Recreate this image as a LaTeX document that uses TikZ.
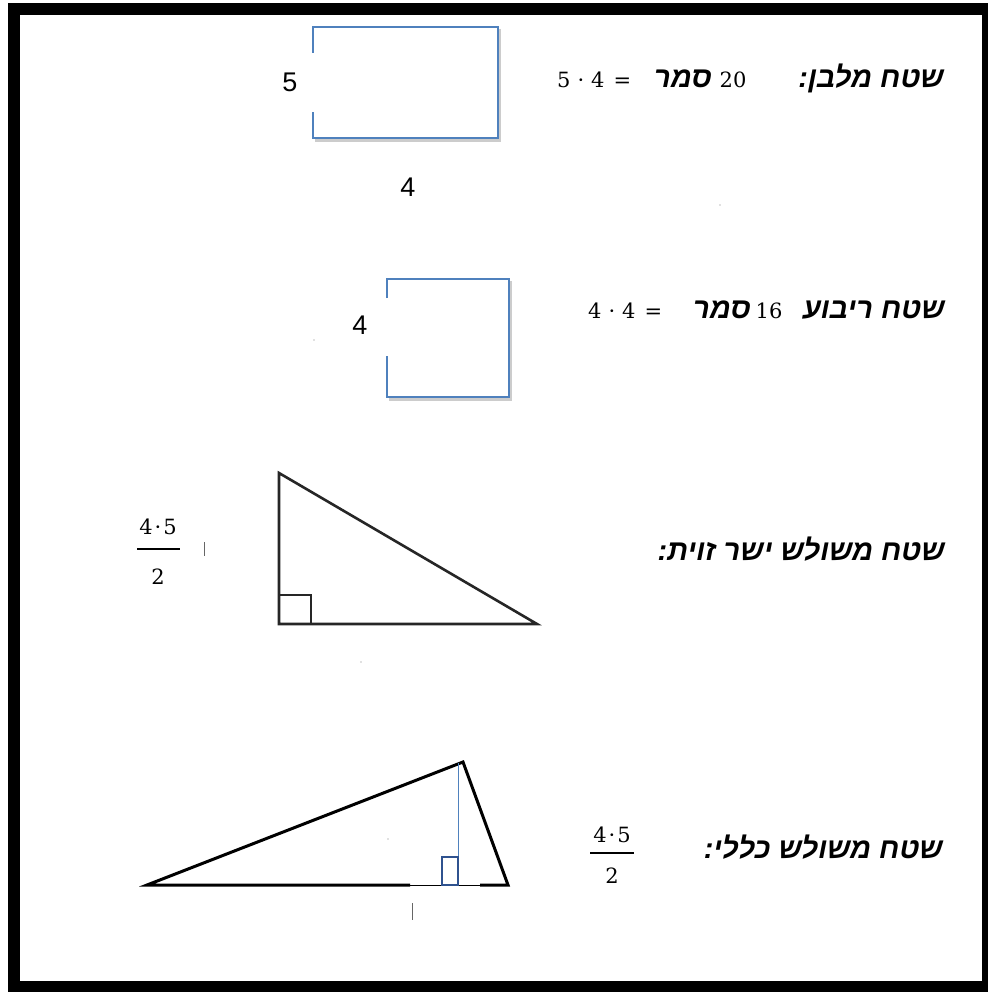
\documentclass[tikz,border=0pt]{standalone}
\usepackage{fontspec}
\TeXXeTstate=1
\newfontfamily\hebfont[Script=Hebrew]{Liberation Sans}
\newfontfamily\arialfont{Liberation Sans}
\newfontfamily\serfont{DejaVu Serif}
\definecolor{boxblue}{HTML}{4F81BD}
\definecolor{darkblue}{HTML}{2F528F}
\newcommand{\sdot}{\hspace{2pt}·\hspace{2pt}}
\begin{document}
\begin{tikzpicture}[x=1pt,y=-1pt,
  heb/.style={font=\hebfont\bfseries\itshape\fontsize{29}{33}\selectfont, inner sep=0pt, anchor=base east},
  num/.style={font=\serfont\fontsize{21}{25}\selectfont, inner sep=0pt},
  lab/.style={font=\arialfont\fontsize{27}{30}\selectfont, inner sep=0pt},
  bluebox/.style={draw=boxblue, line width=1.6pt, line join=miter},
  shade/.style={draw=black!20, line width=2.5pt},
  tri/.style={draw=black!85, line width=2.6pt, line join=miter},
  tickmark/.style={draw=black!60, line width=0.8pt}]
\useasboundingbox (0,0) rectangle (987,992);
\fill[white] (0,0) rectangle (987,992);
% frame
\draw[line width=12pt] (14,9) rectangle (988,987);

% ---------- rectangle ----------
\coordinate (r1a) at (313,53);
\coordinate (r1tl) at (313,27);
\coordinate (r1tr) at (498,27);
\coordinate (r1br) at (498,138);
\coordinate (r1bl) at (313,138);
\coordinate (r1b) at (313,112);
\draw[shade] ([shift={(2,2)}]r1tr) -- ([shift={(2,2.5)}]r1br) -- ([shift={(2,2.5)}]r1bl);
\draw[bluebox] (r1a) -- (r1tl) -- (r1tr) -- (r1br) -- (r1bl) -- (r1b);
\node[lab] (l5) at (290,82) {5};
\node[lab] (l4a) at (408,187) {4};
\fill[black!50] (720,205) circle (0.6);

\node[heb] (h1) at (944,88) {\beginR שטח מלבן:\endR};
\node[num, anchor=base] (n20) at (733,88) {20};
\node[heb] (h1u) at (712,88) {\beginR סמר\endR};
\node[num, anchor=base west] (e1) at (557,88) {5\hspace{7pt}·\hspace{7pt}4\hspace{9pt}=};

% ---------- square ----------
\coordinate (r2a) at (387,298);
\coordinate (r2tl) at (387,279);
\coordinate (r2tr) at (509,279);
\coordinate (r2br) at (509,397);
\coordinate (r2bl) at (387,397);
\coordinate (r2b) at (387,356);
\draw[shade] ([shift={(2,2)}]r2tr) -- ([shift={(2,2.5)}]r2br) -- ([shift={(2,2.5)}]r2bl);
\draw[bluebox] (r2a) -- (r2tl) -- (r2tr) -- (r2br) -- (r2bl) -- (r2b);
\node[lab] (l4b) at (360,325) {4};
\fill[black!50] (314,340) circle (0.6);

\node[heb] (h2) at (945,318) {\beginR שטח ריבוע\endR};
\node[num, anchor=base] (n16) at (769,318) {16};
\node[heb] (h2u) at (751,318) {\beginR סמר\endR};
\node[num, anchor=base west] (e2) at (588,318) {4\hspace{7pt}·\hspace{7pt}4\hspace{9pt}=};

% ---------- right triangle ----------
\coordinate (t1a) at (279,473);
\coordinate (t1b) at (279,624);
\coordinate (t1c) at (537,624);
\draw[tri] (t1a) -- (t1b) -- (t1c) -- cycle;
\draw[draw=black!85, line width=2pt] (279,595) -- (311,595) -- (311,624);
\node[num] (f1n) at (158,527) {4\sdot5};
\draw[line width=2.6pt] (137,549) -- (180,549);
\node[num] (f1d) at (158,577) {2};
\draw[tickmark] (204,542) -- (204,556);
\fill[black!50] (361,662) circle (0.6);

\node[heb] (h3) at (945,560) {\beginR שטח משולש ישר זוית:\endR};

% ---------- general triangle ----------
\coordinate (t2a) at (147,885);
\coordinate (t2b) at (463,762);
\coordinate (t2c) at (508,885);
\coordinate (t2g1) at (410,885);
\coordinate (t2g2) at (480,885);
\coordinate (t2h) at (458,763);
\coordinate (t2f) at (458,885);
\draw[line width=3pt, line join=miter] (t2g1) -- (t2a) -- (t2b) -- (t2c) -- (t2g2);
\draw[line width=1pt] (t2g1) -- (t2g2);
\draw[draw=boxblue, line width=1pt] (t2h) -- (t2f);
\draw[draw=darkblue, line width=2.2pt] (442,885) rectangle (458,857);
\fill[black!50] (388,839) circle (0.6);
\draw[tickmark] (412,903) -- (412,920);

\node[num] (f2n) at (612,835) {4\sdot5};
\draw[line width=2.6pt] (590,853) -- (634,853);
\node[num] (f2d) at (612,876) {2};

\node[heb] (h4) at (943,858) {\beginR שטח משולש כללי:\endR};
\end{tikzpicture}
\end{document}
